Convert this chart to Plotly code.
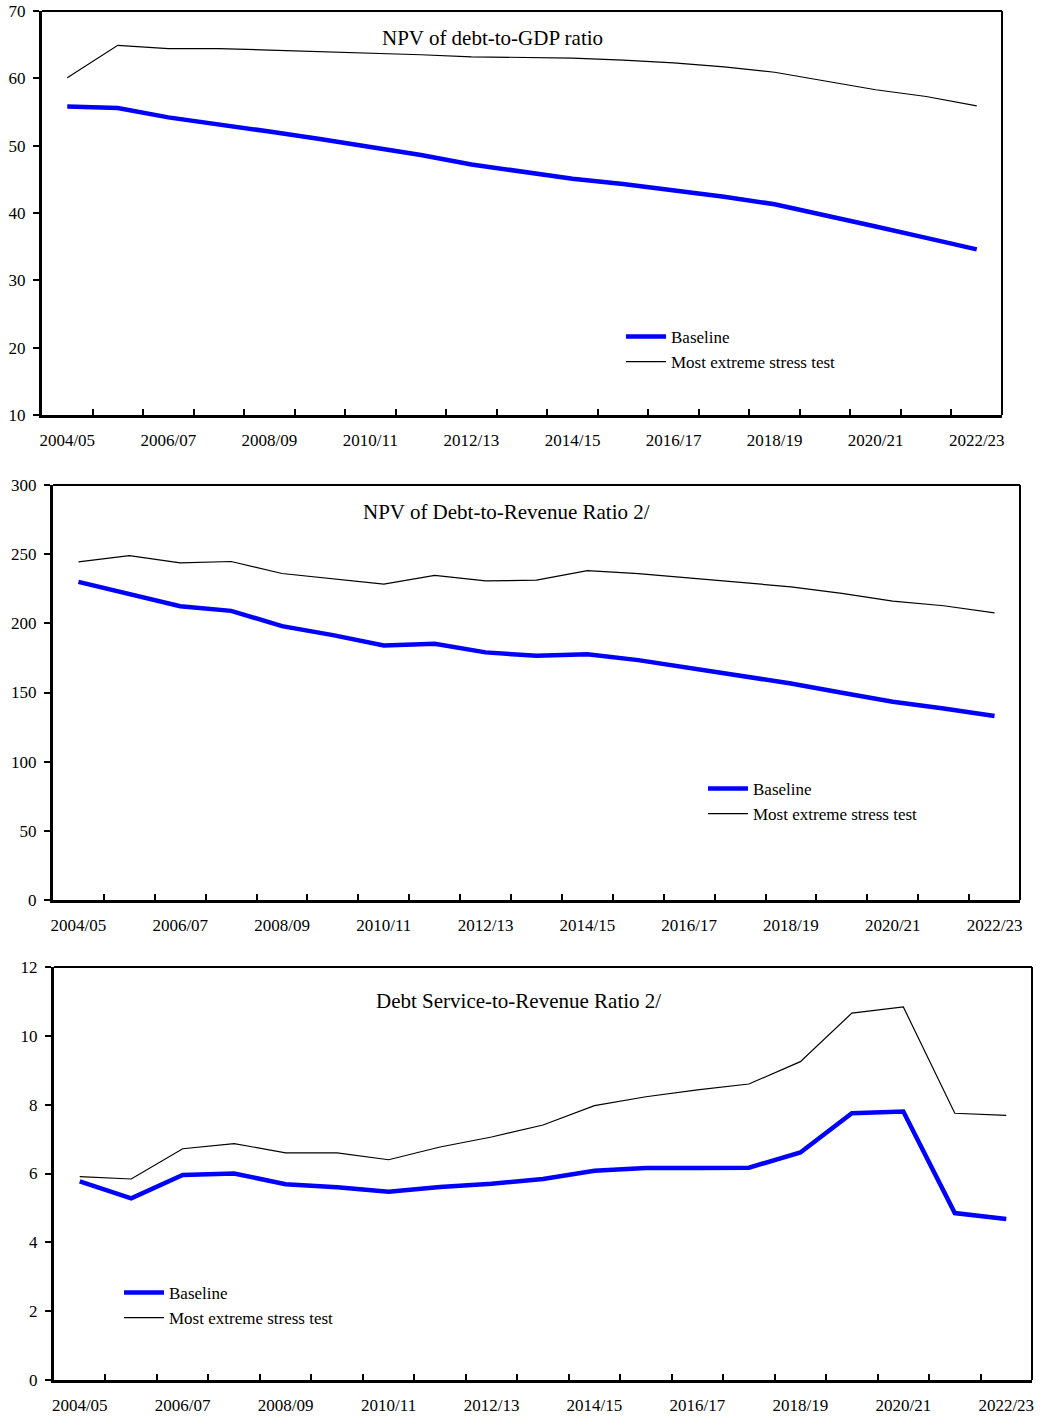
import plotly.graph_objects as go

# Fiscal years on the horizontal axis
years = ["2004/05", "2005/06", "2006/07", "2007/08", "2008/09", "2009/10",
         "2010/11", "2011/12", "2012/13", "2013/14", "2014/15", "2015/16",
         "2016/17", "2017/18", "2018/19", "2019/20", "2020/21", "2021/22",
         "2022/23"]
year_labels = [y if i % 2 == 0 else "" for i, y in enumerate(years)]

# NPV of debt-to-GDP ratio
gdp_baseline = [55.8, 55.6, 54.2, 53.2, 52.1, 51.0, 49.8, 48.6, 47.2, 46.1,
                45.1, 44.3, 43.4, 42.4, 41.3, 39.7, 38.0, 36.3, 34.6]
gdp_stress = [60.1, 64.9, 64.4, 64.4, 64.2, 64.0, 63.8, 63.5, 63.2, 63.1,
              63.0, 62.7, 62.3, 61.7, 60.9, 59.6, 58.3, 57.3, 55.9]

# NPV of debt-to-revenue ratio
rev_baseline = [230.0, 220.8, 212.4, 209.0, 198.0, 191.5, 184.0, 185.2, 179.0,
                176.5, 177.7, 173.4, 168.0, 162.6, 156.5, 149.8, 143.3, 138.5,
                133.0]
rev_stress = [244.4, 249.0, 243.7, 244.7, 236.0, 232.4, 228.3, 234.6, 230.7,
              231.2, 238.1, 236.0, 232.9, 230.0, 226.4, 221.6, 216.0, 212.7,
              207.6]

# Debt service-to-revenue ratio
ds_baseline = [5.77, 5.28, 5.96, 6.00, 5.69, 5.60, 5.47, 5.61, 5.70, 5.84,
               6.08, 6.16, 6.16, 6.17, 6.61, 7.75, 7.80, 4.85, 4.68]
ds_stress = [5.91, 5.84, 6.72, 6.87, 6.60, 6.60, 6.40, 6.77, 7.06, 7.41,
             7.97, 8.23, 8.43, 8.60, 9.25, 10.66, 10.84, 7.75, 7.69]

titles = ["NPV of debt-to-GDP ratio", "NPV of Debt-to-Revenue Ratio 2/",
          "Debt Service-to-Revenue Ratio 2/"]
y_ranges = [(10, 70), (0, 300), (0, 12)]
y_steps = [10, 50, 2]

W, H = 1041, 1420
FONT = "Liberation Serif"
BLUE = "#0000FF"

# panel boxes in pixels: left, right, top, bottom
boxes = [(42, 1002, 11, 415), (53, 1020, 485, 900), (54, 1032, 967, 1380)]
title_pos = [(0.469, 27), (0.469, 27), (0.475, 34)]
legend_pos = [(621, 319), (703, 771), (119, 1275)]

series = [(gdp_baseline, gdp_stress), (rev_baseline, rev_stress),
          (ds_baseline, ds_stress)]

fig = go.Figure()
legend_names = ["legend", "legend2", "legend3"]

for k in range(3):
    sfx = "" if k == 0 else str(k + 1)
    base, stress = series[k]
    fig.add_trace(go.Scatter(
        x=years, y=base, mode="lines", name="Baseline",
        line=dict(color=BLUE, width=4.5), xaxis="x" + sfx, yaxis="y" + sfx,
        legend=legend_names[k]))
    fig.add_trace(go.Scatter(
        x=years, y=stress, mode="lines", name="Most extreme stress test",
        line=dict(color="black", width=1.2), xaxis="x" + sfx, yaxis="y" + sfx,
        legend=legend_names[k]))

    l, r, t, b = boxes[k]
    xdom = [l / W, r / W]
    ydom = [1 - b / H, 1 - t / H]
    fig.layout["xaxis" + sfx] = dict(
        domain=xdom, anchor="y" + sfx, type="category",
        categoryorder="array", categoryarray=years,
        range=[-0.5, len(years) - 0.5],
        tickmode="array", tickvals=years, ticktext=year_labels,
        tickangle=0, automargin=False,
        tickson="boundaries", ticks="inside", ticklen=6, tickwidth=2,
        tickcolor="black", showline=True, linecolor="black", linewidth=3,
        showgrid=False, zeroline=False, ticklabelstandoff=8,
        tickfont=dict(family=FONT, size=17, color="black"),
        fixedrange=True)
    y0, y1 = y_ranges[k]
    fig.layout["yaxis" + sfx] = dict(
        domain=ydom, anchor="x" + sfx, range=[y0, y1],
        tickmode="linear", tick0=y0, dtick=y_steps[k], automargin=False,
        ticks="outside", ticklen=6, tickwidth=2, tickcolor="black",
        showline=True, linecolor="black", linewidth=3,
        showgrid=False, zeroline=False, ticklabelstandoff=4,
        tickfont=dict(family=FONT, size=17, color="black"),
        fixedrange=True)

    # top and right edges of the frame
    fig.add_shape(type="line", xref="x" + sfx + " domain", yref="y" + sfx + " domain",
                  x0=0, x1=1, y0=1, y1=1, line=dict(color="black", width=2))
    fig.add_shape(type="line", xref="x" + sfx + " domain", yref="y" + sfx + " domain",
                  x0=1, x1=1, y0=0, y1=1, line=dict(color="black", width=2))

    tx, toff = title_pos[k]
    fig.add_annotation(
        text=titles[k], xref="x" + sfx + " domain", yref="paper",
        x=tx, y=1 - (t + toff) / H, xanchor="center", yanchor="middle",
        showarrow=False, font=dict(family=FONT, size=21, color="black"))

    lx, ly = legend_pos[k]
    fig.layout[legend_names[k]] = dict(
        x=lx / W, y=1 - ly / H, xanchor="left", yanchor="top",
        bgcolor="rgba(0,0,0,0)", borderwidth=0,
        font=dict(family=FONT, size=17, color="black"),
        itemwidth=40, tracegroupgap=0)

fig.update_layout(
    width=W, height=H, margin=dict(l=0, r=0, t=0, b=0, autoexpand=False),
    paper_bgcolor="white", plot_bgcolor="white", showlegend=True)

fig.write_html("out.html", config={"displayModeBar": False})
